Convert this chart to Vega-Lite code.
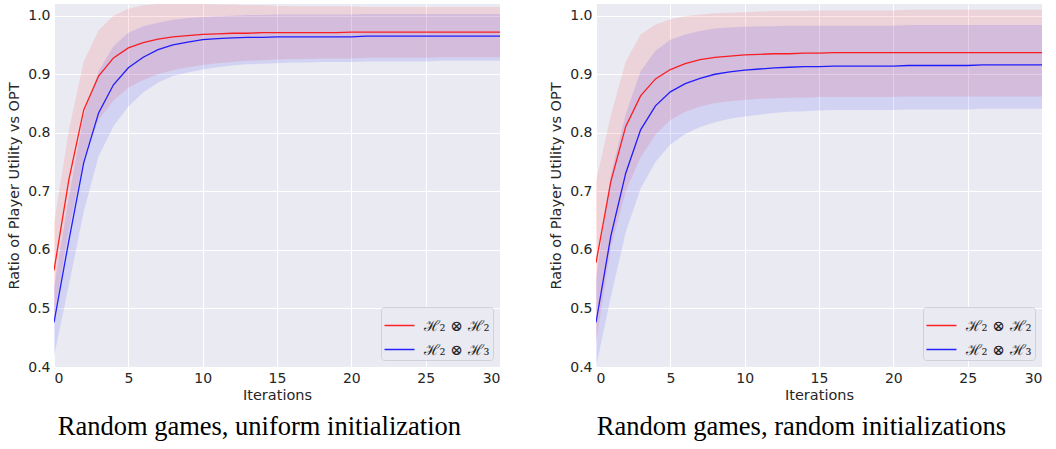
{
  "$schema": "https://vega.github.io/schema/vega-lite/v6.json",
  "background": "white",
  "padding": {"left": 6, "top": 4, "right": 4, "bottom": 4},
  "spacing": 48,
  "config": {
    "view": {"fill": "#eaeaf2", "stroke": null},
    "axis": {
      "grid": true, "gridColor": "#ffffff", "gridWidth": 1, "domain": false, "ticks": false,
      "labelFont": "DejaVu Sans", "labelFontSize": 14, "labelColor": "#262626",
      "titleFont": "DejaVu Sans", "titleFontSize": 14.5, "titleFontWeight": "normal", "titleColor": "#262626"
    },
    "legend": {
      "orient": "bottom-right", "offset": 7, "title": null,
      "fillColor": "#eaeaf2", "strokeColor": "#d0d0d8", "cornerRadius": 3, "padding": 2.5,
      "symbolType": "stroke", "symbolSize": 900, "symbolStrokeWidth": 1.5, "symbolOpacity": 0.85,
      "labelFont": "DejaVu Serif", "labelFontSize": 15, "labelColor": "#262626", "labelOffset": 8, "rowPadding": 0
    },
    "title": {"font": "Liberation Serif", "fontSize": 26.5, "fontWeight": "normal", "color": "#000000", "orient": "bottom", "offset": 12, "anchor": "middle", "frame": "bounds", "dx": 6}
  },
  "resolve": {"legend": {"color": "independent"}},
  "datasets": {
    "uniform": [
      {"series": "ℋ₂ ⊗ ℋ₂", "iter": 0, "mean": 0.565, "lo": 0.485, "hi": 0.645},
      {"series": "ℋ₂ ⊗ ℋ₂", "iter": 1, "mean": 0.720, "lo": 0.635, "hi": 0.805},
      {"series": "ℋ₂ ⊗ ℋ₂", "iter": 2, "mean": 0.839, "lo": 0.756, "hi": 0.922},
      {"series": "ℋ₂ ⊗ ℋ₂", "iter": 3, "mean": 0.897, "lo": 0.822, "hi": 0.975},
      {"series": "ℋ₂ ⊗ ℋ₂", "iter": 4, "mean": 0.928, "lo": 0.855, "hi": 1.000},
      {"series": "ℋ₂ ⊗ ℋ₂", "iter": 5, "mean": 0.945, "lo": 0.877, "hi": 1.012},
      {"series": "ℋ₂ ⊗ ℋ₂", "iter": 6, "mean": 0.954, "lo": 0.890, "hi": 1.018},
      {"series": "ℋ₂ ⊗ ℋ₂", "iter": 7, "mean": 0.960, "lo": 0.900, "hi": 1.020},
      {"series": "ℋ₂ ⊗ ℋ₂", "iter": 8, "mean": 0.964, "lo": 0.907, "hi": 1.021},
      {"series": "ℋ₂ ⊗ ℋ₂", "iter": 9, "mean": 0.966, "lo": 0.912, "hi": 1.021},
      {"series": "ℋ₂ ⊗ ℋ₂", "iter": 10, "mean": 0.968, "lo": 0.916, "hi": 1.020},
      {"series": "ℋ₂ ⊗ ℋ₂", "iter": 11, "mean": 0.969, "lo": 0.919, "hi": 1.019},
      {"series": "ℋ₂ ⊗ ℋ₂", "iter": 12, "mean": 0.970, "lo": 0.921, "hi": 1.019},
      {"series": "ℋ₂ ⊗ ℋ₂", "iter": 13, "mean": 0.970, "lo": 0.923, "hi": 1.018},
      {"series": "ℋ₂ ⊗ ℋ₂", "iter": 14, "mean": 0.971, "lo": 0.924, "hi": 1.018},
      {"series": "ℋ₂ ⊗ ℋ₂", "iter": 15, "mean": 0.971, "lo": 0.925, "hi": 1.017},
      {"series": "ℋ₂ ⊗ ℋ₂", "iter": 16, "mean": 0.971, "lo": 0.926, "hi": 1.016},
      {"series": "ℋ₂ ⊗ ℋ₂", "iter": 17, "mean": 0.971, "lo": 0.926, "hi": 1.016},
      {"series": "ℋ₂ ⊗ ℋ₂", "iter": 18, "mean": 0.971, "lo": 0.927, "hi": 1.016},
      {"series": "ℋ₂ ⊗ ℋ₂", "iter": 19, "mean": 0.971, "lo": 0.927, "hi": 1.016},
      {"series": "ℋ₂ ⊗ ℋ₂", "iter": 20, "mean": 0.972, "lo": 0.927, "hi": 1.016},
      {"series": "ℋ₂ ⊗ ℋ₂", "iter": 21, "mean": 0.972, "lo": 0.928, "hi": 1.015},
      {"series": "ℋ₂ ⊗ ℋ₂", "iter": 22, "mean": 0.972, "lo": 0.928, "hi": 1.015},
      {"series": "ℋ₂ ⊗ ℋ₂", "iter": 23, "mean": 0.972, "lo": 0.928, "hi": 1.015},
      {"series": "ℋ₂ ⊗ ℋ₂", "iter": 24, "mean": 0.972, "lo": 0.928, "hi": 1.015},
      {"series": "ℋ₂ ⊗ ℋ₂", "iter": 25, "mean": 0.972, "lo": 0.928, "hi": 1.015},
      {"series": "ℋ₂ ⊗ ℋ₂", "iter": 26, "mean": 0.972, "lo": 0.929, "hi": 1.015},
      {"series": "ℋ₂ ⊗ ℋ₂", "iter": 27, "mean": 0.972, "lo": 0.929, "hi": 1.015},
      {"series": "ℋ₂ ⊗ ℋ₂", "iter": 28, "mean": 0.972, "lo": 0.929, "hi": 1.015},
      {"series": "ℋ₂ ⊗ ℋ₂", "iter": 29, "mean": 0.972, "lo": 0.929, "hi": 1.015},
      {"series": "ℋ₂ ⊗ ℋ₂", "iter": 30, "mean": 0.972, "lo": 0.929, "hi": 1.015},
      {"series": "ℋ₂ ⊗ ℋ₃", "iter": 0, "mean": 0.476, "lo": 0.418, "hi": 0.535},
      {"series": "ℋ₂ ⊗ ℋ₃", "iter": 1, "mean": 0.616, "lo": 0.540, "hi": 0.690},
      {"series": "ℋ₂ ⊗ ℋ₃", "iter": 2, "mean": 0.749, "lo": 0.665, "hi": 0.830},
      {"series": "ℋ₂ ⊗ ℋ₃", "iter": 3, "mean": 0.834, "lo": 0.760, "hi": 0.905},
      {"series": "ℋ₂ ⊗ ℋ₃", "iter": 4, "mean": 0.882, "lo": 0.811, "hi": 0.948},
      {"series": "ℋ₂ ⊗ ℋ₃", "iter": 5, "mean": 0.911, "lo": 0.845, "hi": 0.971},
      {"series": "ℋ₂ ⊗ ℋ₃", "iter": 6, "mean": 0.929, "lo": 0.869, "hi": 0.982},
      {"series": "ℋ₂ ⊗ ℋ₃", "iter": 7, "mean": 0.942, "lo": 0.886, "hi": 0.988},
      {"series": "ℋ₂ ⊗ ℋ₃", "iter": 8, "mean": 0.950, "lo": 0.897, "hi": 0.993},
      {"series": "ℋ₂ ⊗ ℋ₃", "iter": 9, "mean": 0.955, "lo": 0.903, "hi": 0.996},
      {"series": "ℋ₂ ⊗ ℋ₃", "iter": 10, "mean": 0.959, "lo": 0.908, "hi": 0.998},
      {"series": "ℋ₂ ⊗ ℋ₃", "iter": 11, "mean": 0.961, "lo": 0.912, "hi": 0.999},
      {"series": "ℋ₂ ⊗ ℋ₃", "iter": 12, "mean": 0.962, "lo": 0.915, "hi": 1.000},
      {"series": "ℋ₂ ⊗ ℋ₃", "iter": 13, "mean": 0.963, "lo": 0.917, "hi": 1.001},
      {"series": "ℋ₂ ⊗ ℋ₃", "iter": 14, "mean": 0.963, "lo": 0.918, "hi": 1.001},
      {"series": "ℋ₂ ⊗ ℋ₃", "iter": 15, "mean": 0.964, "lo": 0.919, "hi": 1.002},
      {"series": "ℋ₂ ⊗ ℋ₃", "iter": 16, "mean": 0.964, "lo": 0.920, "hi": 1.002},
      {"series": "ℋ₂ ⊗ ℋ₃", "iter": 17, "mean": 0.964, "lo": 0.920, "hi": 1.002},
      {"series": "ℋ₂ ⊗ ℋ₃", "iter": 18, "mean": 0.964, "lo": 0.921, "hi": 1.002},
      {"series": "ℋ₂ ⊗ ℋ₃", "iter": 19, "mean": 0.964, "lo": 0.921, "hi": 1.002},
      {"series": "ℋ₂ ⊗ ℋ₃", "iter": 20, "mean": 0.964, "lo": 0.921, "hi": 1.002},
      {"series": "ℋ₂ ⊗ ℋ₃", "iter": 21, "mean": 0.965, "lo": 0.922, "hi": 1.003},
      {"series": "ℋ₂ ⊗ ℋ₃", "iter": 22, "mean": 0.965, "lo": 0.922, "hi": 1.003},
      {"series": "ℋ₂ ⊗ ℋ₃", "iter": 23, "mean": 0.965, "lo": 0.922, "hi": 1.003},
      {"series": "ℋ₂ ⊗ ℋ₃", "iter": 24, "mean": 0.965, "lo": 0.922, "hi": 1.003},
      {"series": "ℋ₂ ⊗ ℋ₃", "iter": 25, "mean": 0.965, "lo": 0.922, "hi": 1.003},
      {"series": "ℋ₂ ⊗ ℋ₃", "iter": 26, "mean": 0.965, "lo": 0.923, "hi": 1.003},
      {"series": "ℋ₂ ⊗ ℋ₃", "iter": 27, "mean": 0.965, "lo": 0.923, "hi": 1.003},
      {"series": "ℋ₂ ⊗ ℋ₃", "iter": 28, "mean": 0.965, "lo": 0.923, "hi": 1.003},
      {"series": "ℋ₂ ⊗ ℋ₃", "iter": 29, "mean": 0.965, "lo": 0.923, "hi": 1.003},
      {"series": "ℋ₂ ⊗ ℋ₃", "iter": 30, "mean": 0.965, "lo": 0.923, "hi": 1.003}
    ],
    "random": [
      {"series": "ℋ₂ ⊗ ℋ₂", "iter": 0, "mean": 0.578, "lo": 0.440, "hi": 0.717},
      {"series": "ℋ₂ ⊗ ℋ₂", "iter": 1, "mean": 0.717, "lo": 0.605, "hi": 0.830},
      {"series": "ℋ₂ ⊗ ℋ₂", "iter": 2, "mean": 0.811, "lo": 0.700, "hi": 0.922},
      {"series": "ℋ₂ ⊗ ℋ₂", "iter": 3, "mean": 0.863, "lo": 0.758, "hi": 0.968},
      {"series": "ℋ₂ ⊗ ℋ₂", "iter": 4, "mean": 0.892, "lo": 0.797, "hi": 0.985},
      {"series": "ℋ₂ ⊗ ℋ₂", "iter": 5, "mean": 0.908, "lo": 0.822, "hi": 0.994},
      {"series": "ℋ₂ ⊗ ℋ₂", "iter": 6, "mean": 0.918, "lo": 0.836, "hi": 0.999},
      {"series": "ℋ₂ ⊗ ℋ₂", "iter": 7, "mean": 0.925, "lo": 0.845, "hi": 1.002},
      {"series": "ℋ₂ ⊗ ℋ₂", "iter": 8, "mean": 0.929, "lo": 0.851, "hi": 1.004},
      {"series": "ℋ₂ ⊗ ℋ₂", "iter": 9, "mean": 0.931, "lo": 0.854, "hi": 1.005},
      {"series": "ℋ₂ ⊗ ℋ₂", "iter": 10, "mean": 0.933, "lo": 0.856, "hi": 1.006},
      {"series": "ℋ₂ ⊗ ℋ₂", "iter": 11, "mean": 0.934, "lo": 0.858, "hi": 1.007},
      {"series": "ℋ₂ ⊗ ℋ₂", "iter": 12, "mean": 0.935, "lo": 0.859, "hi": 1.008},
      {"series": "ℋ₂ ⊗ ℋ₂", "iter": 13, "mean": 0.935, "lo": 0.860, "hi": 1.008},
      {"series": "ℋ₂ ⊗ ℋ₂", "iter": 14, "mean": 0.936, "lo": 0.860, "hi": 1.008},
      {"series": "ℋ₂ ⊗ ℋ₂", "iter": 15, "mean": 0.936, "lo": 0.861, "hi": 1.009},
      {"series": "ℋ₂ ⊗ ℋ₂", "iter": 16, "mean": 0.937, "lo": 0.861, "hi": 1.009},
      {"series": "ℋ₂ ⊗ ℋ₂", "iter": 17, "mean": 0.937, "lo": 0.861, "hi": 1.009},
      {"series": "ℋ₂ ⊗ ℋ₂", "iter": 18, "mean": 0.937, "lo": 0.861, "hi": 1.009},
      {"series": "ℋ₂ ⊗ ℋ₂", "iter": 19, "mean": 0.937, "lo": 0.861, "hi": 1.009},
      {"series": "ℋ₂ ⊗ ℋ₂", "iter": 20, "mean": 0.937, "lo": 0.861, "hi": 1.009},
      {"series": "ℋ₂ ⊗ ℋ₂", "iter": 21, "mean": 0.937, "lo": 0.862, "hi": 1.010},
      {"series": "ℋ₂ ⊗ ℋ₂", "iter": 22, "mean": 0.937, "lo": 0.862, "hi": 1.010},
      {"series": "ℋ₂ ⊗ ℋ₂", "iter": 23, "mean": 0.937, "lo": 0.862, "hi": 1.010},
      {"series": "ℋ₂ ⊗ ℋ₂", "iter": 24, "mean": 0.937, "lo": 0.862, "hi": 1.010},
      {"series": "ℋ₂ ⊗ ℋ₂", "iter": 25, "mean": 0.937, "lo": 0.862, "hi": 1.010},
      {"series": "ℋ₂ ⊗ ℋ₂", "iter": 26, "mean": 0.937, "lo": 0.862, "hi": 1.010},
      {"series": "ℋ₂ ⊗ ℋ₂", "iter": 27, "mean": 0.937, "lo": 0.862, "hi": 1.010},
      {"series": "ℋ₂ ⊗ ℋ₂", "iter": 28, "mean": 0.937, "lo": 0.862, "hi": 1.010},
      {"series": "ℋ₂ ⊗ ℋ₂", "iter": 29, "mean": 0.937, "lo": 0.862, "hi": 1.010},
      {"series": "ℋ₂ ⊗ ℋ₂", "iter": 30, "mean": 0.937, "lo": 0.862, "hi": 1.010},
      {"series": "ℋ₂ ⊗ ℋ₃", "iter": 0, "mean": 0.476, "lo": 0.400, "hi": 0.552},
      {"series": "ℋ₂ ⊗ ℋ₃", "iter": 1, "mean": 0.624, "lo": 0.520, "hi": 0.728},
      {"series": "ℋ₂ ⊗ ℋ₃", "iter": 2, "mean": 0.731, "lo": 0.630, "hi": 0.832},
      {"series": "ℋ₂ ⊗ ℋ₃", "iter": 3, "mean": 0.805, "lo": 0.705, "hi": 0.905},
      {"series": "ℋ₂ ⊗ ℋ₃", "iter": 4, "mean": 0.846, "lo": 0.750, "hi": 0.940},
      {"series": "ℋ₂ ⊗ ℋ₃", "iter": 5, "mean": 0.870, "lo": 0.780, "hi": 0.959},
      {"series": "ℋ₂ ⊗ ℋ₃", "iter": 6, "mean": 0.884, "lo": 0.798, "hi": 0.968},
      {"series": "ℋ₂ ⊗ ℋ₃", "iter": 7, "mean": 0.893, "lo": 0.810, "hi": 0.974},
      {"series": "ℋ₂ ⊗ ℋ₃", "iter": 8, "mean": 0.900, "lo": 0.818, "hi": 0.978},
      {"series": "ℋ₂ ⊗ ℋ₃", "iter": 9, "mean": 0.904, "lo": 0.824, "hi": 0.980},
      {"series": "ℋ₂ ⊗ ℋ₃", "iter": 10, "mean": 0.907, "lo": 0.828, "hi": 0.981},
      {"series": "ℋ₂ ⊗ ℋ₃", "iter": 11, "mean": 0.909, "lo": 0.831, "hi": 0.982},
      {"series": "ℋ₂ ⊗ ℋ₃", "iter": 12, "mean": 0.911, "lo": 0.834, "hi": 0.982},
      {"series": "ℋ₂ ⊗ ℋ₃", "iter": 13, "mean": 0.912, "lo": 0.836, "hi": 0.983},
      {"series": "ℋ₂ ⊗ ℋ₃", "iter": 14, "mean": 0.913, "lo": 0.837, "hi": 0.983},
      {"series": "ℋ₂ ⊗ ℋ₃", "iter": 15, "mean": 0.913, "lo": 0.838, "hi": 0.983},
      {"series": "ℋ₂ ⊗ ℋ₃", "iter": 16, "mean": 0.914, "lo": 0.839, "hi": 0.983},
      {"series": "ℋ₂ ⊗ ℋ₃", "iter": 17, "mean": 0.914, "lo": 0.839, "hi": 0.983},
      {"series": "ℋ₂ ⊗ ℋ₃", "iter": 18, "mean": 0.914, "lo": 0.839, "hi": 0.983},
      {"series": "ℋ₂ ⊗ ℋ₃", "iter": 19, "mean": 0.914, "lo": 0.839, "hi": 0.983},
      {"series": "ℋ₂ ⊗ ℋ₃", "iter": 20, "mean": 0.914, "lo": 0.839, "hi": 0.983},
      {"series": "ℋ₂ ⊗ ℋ₃", "iter": 21, "mean": 0.915, "lo": 0.840, "hi": 0.984},
      {"series": "ℋ₂ ⊗ ℋ₃", "iter": 22, "mean": 0.915, "lo": 0.840, "hi": 0.984},
      {"series": "ℋ₂ ⊗ ℋ₃", "iter": 23, "mean": 0.915, "lo": 0.840, "hi": 0.984},
      {"series": "ℋ₂ ⊗ ℋ₃", "iter": 24, "mean": 0.915, "lo": 0.840, "hi": 0.984},
      {"series": "ℋ₂ ⊗ ℋ₃", "iter": 25, "mean": 0.915, "lo": 0.840, "hi": 0.984},
      {"series": "ℋ₂ ⊗ ℋ₃", "iter": 26, "mean": 0.916, "lo": 0.841, "hi": 0.984},
      {"series": "ℋ₂ ⊗ ℋ₃", "iter": 27, "mean": 0.916, "lo": 0.841, "hi": 0.984},
      {"series": "ℋ₂ ⊗ ℋ₃", "iter": 28, "mean": 0.916, "lo": 0.841, "hi": 0.984},
      {"series": "ℋ₂ ⊗ ℋ₃", "iter": 29, "mean": 0.916, "lo": 0.841, "hi": 0.984},
      {"series": "ℋ₂ ⊗ ℋ₃", "iter": 30, "mean": 0.916, "lo": 0.841, "hi": 0.984}
    ]
  },
  "hconcat": [
    {
      "width": 446, "height": 363,
      "data": {"name": "uniform"},
      "title": {"text": "Random games, uniform initialization"},
      "layer": [
        {
          "mark": {"type": "area", "opacity": 0.1, "clip": true},
          "encoding": {
            "x": {"field": "iter", "type": "quantitative", "title": "Iterations",
                  "scale": {"domain": [0, 30], "nice": false},
                  "axis": {"values": [0, 5, 10, 15, 20, 25, 30], "labelPadding": 4, "titlePadding": 3}},
            "y": {"field": "lo", "type": "quantitative", "title": "Ratio of Player Utility vs OPT",
                  "scale": {"domain": [0.4, 1.02], "nice": false, "zero": false},
                  "axis": {"values": [0.4, 0.5, 0.6, 0.7, 0.8, 0.9, 1.0], "format": ".1f", "labelPadding": 4, "titlePadding": 6}},
            "y2": {"field": "hi"},
            "fill": {"field": "series", "type": "nominal", "legend": null,
                     "scale": {"domain": ["ℋ₂ ⊗ ℋ₂", "ℋ₂ ⊗ ℋ₃"], "range": ["#ff0000", "#0000ff"]}}
          }
        },
        {
          "mark": {"type": "line", "strokeWidth": 1.3, "opacity": 0.85, "clip": true},
          "encoding": {
            "x": {"field": "iter", "type": "quantitative", "scale": {"domain": [0, 30], "nice": false}},
            "y": {"field": "mean", "type": "quantitative", "scale": {"domain": [0.4, 1.02], "nice": false, "zero": false}},
            "color": {"field": "series", "type": "nominal",
                      "scale": {"domain": ["ℋ₂ ⊗ ℋ₂", "ℋ₂ ⊗ ℋ₃"], "range": ["#ff0000", "#0000ff"]}}
          }
        }
      ]
    },
    {
      "width": 446, "height": 363,
      "data": {"name": "random"},
      "title": {"text": "Random games, random initializations"},
      "layer": [
        {
          "mark": {"type": "area", "opacity": 0.1, "clip": true},
          "encoding": {
            "x": {"field": "iter", "type": "quantitative", "title": "Iterations",
                  "scale": {"domain": [0, 30], "nice": false},
                  "axis": {"values": [0, 5, 10, 15, 20, 25, 30], "labelPadding": 4, "titlePadding": 3}},
            "y": {"field": "lo", "type": "quantitative", "title": "Ratio of Player Utility vs OPT",
                  "scale": {"domain": [0.4, 1.02], "nice": false, "zero": false},
                  "axis": {"values": [0.4, 0.5, 0.6, 0.7, 0.8, 0.9, 1.0], "format": ".1f", "labelPadding": 4, "titlePadding": 6}},
            "y2": {"field": "hi"},
            "fill": {"field": "series", "type": "nominal", "legend": null,
                     "scale": {"domain": ["ℋ₂ ⊗ ℋ₂", "ℋ₂ ⊗ ℋ₃"], "range": ["#ff0000", "#0000ff"]}}
          }
        },
        {
          "mark": {"type": "line", "strokeWidth": 1.3, "opacity": 0.85, "clip": true},
          "encoding": {
            "x": {"field": "iter", "type": "quantitative", "scale": {"domain": [0, 30], "nice": false}},
            "y": {"field": "mean", "type": "quantitative", "scale": {"domain": [0.4, 1.02], "nice": false, "zero": false}},
            "color": {"field": "series", "type": "nominal",
                      "scale": {"domain": ["ℋ₂ ⊗ ℋ₂", "ℋ₂ ⊗ ℋ₃"], "range": ["#ff0000", "#0000ff"]}}
          }
        }
      ]
    }
  ]
}
